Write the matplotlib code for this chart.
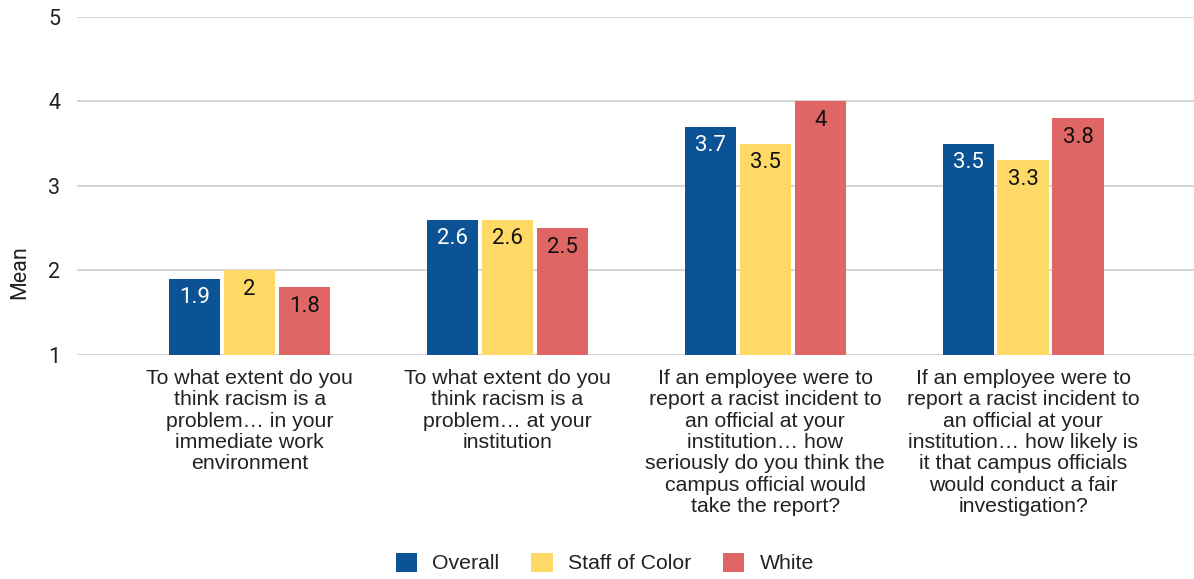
import matplotlib
matplotlib.use("Agg")
import matplotlib.pyplot as plt
import numpy as np

categories = [
    "To what extent do you\nthink racism is a\nproblem\u2026 in your\nimmediate work\nenvironment",
    "To what extent do you\nthink racism is a\nproblem\u2026 at your\ninstitution",
    "If an employee were to\nreport a racist incident to\nan official at your\ninstitution\u2026 how\nseriously do you think the\ncampus official would\ntake the report?",
    "If an employee were to\nreport a racist incident to\nan official at your\ninstitution\u2026 how likely is\nit that campus officials\nwould conduct a fair\ninvestigation?",
]
series_names = ["Overall", "Staff of Color", "White"]
overall = [1.9, 2.6, 3.7, 3.5]
staff_of_color = [2.0, 2.6, 3.5, 3.3]
white = [1.8, 2.5, 4.0, 3.8]
yticks = [1, 2, 3, 4, 5]

colors = ["#0b5394", "#ffd966", "#e06666"]
label_colors = ["white", "#111111", "#111111"]

W, H = 1194, 579
fig = plt.figure(figsize=(W / 100, H / 100), dpi=100)
ax = fig.add_axes([77 / W, 1 - 355 / H, 1 - 77 / W, (355 - 16.7) / H])

x = np.arange(len(categories))
bw = 0.199
step = 0.213
for i, (vals, c, lc) in enumerate(zip([overall, staff_of_color, white], colors, label_colors)):
    pos = x + (i - 1) * step
    ax.bar(pos, np.array(vals) - 1, bottom=1, width=bw, color=c, zorder=3,
           label=series_names[i])
    for p, v in zip(pos, vals):
        ax.annotate(f"{v:g}", xy=(p, v), xytext=(0, -19), textcoords="offset pixels",
                    ha="center", va="center", color=lc, fontsize=16, family="Roboto",
                    zorder=4)

ax.set_xlim(-0.67, 3.663)
ax.set_ylim(1, 5)
ax.set_yticks(yticks)
ax.set_yticklabels([str(t) for t in yticks], family="Roboto", fontsize=15.5, color="#222222")
ax.yaxis.grid(True, color="#cccccc", linewidth=1.2, zorder=0)
ax.tick_params(axis="y", length=0, pad=12)
ax.set_xticks(x)
ax.set_xticklabels(categories, family="Liberation Sans", fontsize=15.3, color="#222222",
                   linespacing=1.16, va="top")
ax.tick_params(axis="x", length=0, pad=10)
for s in ax.spines.values():
    s.set_visible(False)

fig.text(20 / W, 1 - 272 / H, "Mean", rotation=90, ha="center", va="center",
         family="Roboto", fontsize=15.5, color="#222222")

leg = fig.legend(loc="center", bbox_to_anchor=(605 / W, 1 - 563 / H), ncol=3,
                 frameon=False, prop={"family": "Liberation Sans", "size": 15.3},
                 handlelength=1.0, handleheight=1.0, handletextpad=0.72,
                 columnspacing=1.5)
for t in leg.get_texts():
    t.set_color("#222222")

fig.savefig("out.png", dpi=100)
